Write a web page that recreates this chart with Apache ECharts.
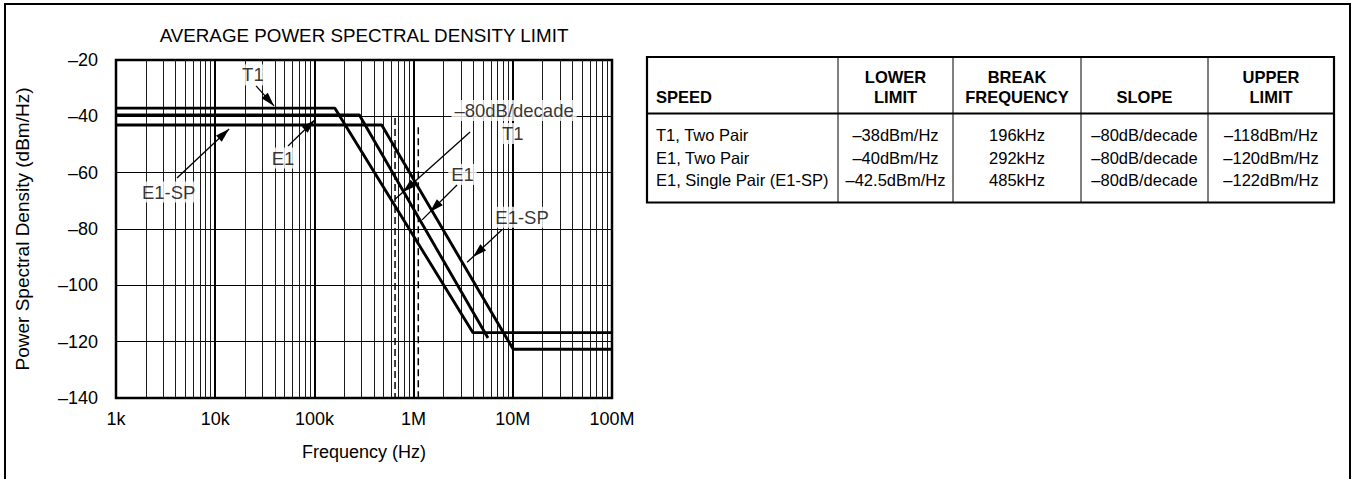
<!DOCTYPE html>
<html><head><meta charset="utf-8">
<script src="https://cdn.jsdelivr.net/npm/echarts@6/dist/echarts.min.js"></script>
<style>html,body{margin:0;padding:0;background:#fff}#c{width:1356px;height:479px}</style>
</head><body><div id="c"></div>
<script>
// ---- data ----
const xTickLabels = ['1k', '10k', '100k', '1M', '10M', '100M'];
const yTickLabels = ['–140', '–120', '–100', '–80', '–60', '–40', '–20'];

const t1Freq = [1e3, 161e3, 3.97e6, 1e8];
const t1Psd = [-37.1, -37.1, -116.8, -116.8];
const e1Freq = [1e3, 284e3, 5.62e6];
const e1Psd = [-39.5, -39.5, -118.7];
const e1spFreq = [1e3, 477e3, 10.1e6, 1e8];
const e1spPsd = [-43.1, -43.1, -122.7, -122.7];

const dashFreq = [650e3, 1.115e6];
const dashTopPsd = [-40.6, -43.9];

const labelText = ['T1', 'E1', 'E1-SP', '–80dB/decade', 'T1', 'E1', 'E1-SP'];
const labelFreq = [24.0e3, 48.2e3, 3.4e3, 10.3e6, 10.0e6, 3.11e6, 12.4e6];
const labelPsd = [-25.3, -54.8, -66.9, -37.9, -46.1, -60.6, -75.8];

const arrowFromFreq = [25.8e3, 54.2e3, 4.12e3, 3.71e6, 2.74e6, 7.78e6];
const arrowFromPsd = [-29.2, -50.5, -61.9, -45.6, -64.4, -80.3];
const arrowToFreq = [39.2e3, 101e3, 13.8e3, 781e3, 1.46e6, 3.97e6];
const arrowToPsd = [-36.3, -41.3, -44.5, -66.9, -74.0, -89.9];

const tableHead = [['SPEED'], ['LOWER', 'LIMIT'], ['BREAK', 'FREQUENCY'], ['SLOPE'], ['UPPER', 'LIMIT']];
const tableRows = [
  ['T1, Two Pair', '–38dBm/Hz', '196kHz', '–80dB/decade', '–118dBm/Hz'],
  ['E1, Two Pair', '–40dBm/Hz', '292kHz', '–80dB/decade', '–120dBm/Hz'],
  ['E1, Single Pair (E1-SP)', '–42.5dBm/Hz', '485kHz', '–80dB/decade', '–122dBm/Hz']
];

// ---- styling / layout ----
const FONT = '"Liberation Sans", Arial, Helvetica, sans-serif';
const arrowOvershoot = [0, 0, 0, 11, 11, 8];
const GRID = {left: 116, top: 60, width: 496, height: 338};

// minor grid positions (2..9 per decade) – axis structure
const minorFreqs = [];
for (let d = 1e3; d < 1e8; d *= 10) for (let m = 2; m <= 9; m++) minorFreqs.push(m * d);

const pairs = (fs, ps) => fs.map((f, i) => [f, ps[i]]);

const chart = echarts.init(document.getElementById('c'), null, {renderer: 'svg'});

const curveStyle = {color: '#000', width: 2.9};
const option = {
  animation: false,
  backgroundColor: '#fff',
  grid: Object.assign({show: true, borderColor: '#000', borderWidth: 2.5, backgroundColor: 'transparent'}, GRID),
  xAxis: {
    type: 'log', logBase: 10, min: 1e3, max: 1e8,
    name: 'Frequency (Hz)', nameLocation: 'middle', nameGap: 45,
    nameTextStyle: {fontFamily: FONT, fontSize: 18, color: '#000'},
    axisLine: {show: false}, axisTick: {show: false},
    axisLabel: {
      margin: 12, fontFamily: FONT, fontSize: 18, color: '#000', showMinLabel: true, showMaxLabel: true,
      formatter: v => xTickLabels[Math.round(Math.log10(v)) - 3]
    },
    splitLine: {show: true, lineStyle: {color: '#000', width: 2}},
    minorTick: {show: false}, minorSplitLine: {show: false}
  },
  yAxis: {
    type: 'value', min: -140, max: -20, interval: 20,
    name: 'Power Spectral Density (dBm/Hz)', nameLocation: 'middle', nameGap: 84,
    nameTextStyle: {fontFamily: FONT, fontSize: 19, color: '#000', width: 400, overflow: 'none'},
    axisLine: {show: false}, axisTick: {show: false},
    axisLabel: {
      margin: 18, fontFamily: FONT, fontSize: 18, color: '#000',
      formatter: v => yTickLabels[Math.round((v + 140) / 20)]
    },
    splitLine: {show: true, lineStyle: {color: '#000', width: 1}}
  },
  series: [
    {
      type: 'line', data: [], z: 1, silent: true,
      markLine: {
        silent: true, symbol: 'none', animation: false, label: {show: false},
        lineStyle: {color: '#1a1a1a', width: 1, type: 'solid'},
        emphasis: {disabled: true},
        data: minorFreqs.map(f => ({xAxis: f}))
      }
    },
    {name: 'T1', type: 'line', data: pairs(t1Freq, t1Psd), showSymbol: false, lineStyle: curveStyle, z: 5},
    {name: 'E1', type: 'line', data: pairs(e1Freq, e1Psd), showSymbol: false, lineStyle: curveStyle, z: 5},
    {name: 'E1-SP', type: 'line', data: pairs(e1spFreq, e1spPsd), showSymbol: false, lineStyle: curveStyle, z: 5},
    {type: 'line', data: [[dashFreq[0], dashTopPsd[0]], [dashFreq[0], -140]], showSymbol: false,
      lineStyle: {color: '#000', width: 1.5, type: [7, 4]}, z: 4},
    {type: 'line', data: [[dashFreq[1], dashTopPsd[1]], [dashFreq[1], -140]], showSymbol: false,
      lineStyle: {color: '#000', width: 1.5, type: [7, 4]}, z: 4},
    {
      type: 'scatter', z: 10, symbolSize: 0, itemStyle: {color: 'transparent'},
      data: labelText.map((t, i) => [labelFreq[i], labelPsd[i], t]),
      label: {
        show: true, position: 'inside', formatter: p => p.data[2],
        backgroundColor: '#fff', padding: [1, 3], color: '#000', fontSize: 18.5, fontFamily: FONT
      }
    }
  ]
};
chart.setOption(option);

// ---- arrows (positions via the chart's own scales) ----
const graphics = [];
for (let i = 0; i < arrowFromFreq.length; i++) {
  const p0 = chart.convertToPixel({gridIndex: 0}, [arrowFromFreq[i], arrowFromPsd[i]]);
  const p1 = chart.convertToPixel({gridIndex: 0}, [arrowToFreq[i], arrowToPsd[i]]);
  const dx = p1[0] - p0[0], dy = p1[1] - p0[1], L = Math.hypot(dx, dy), ux = dx / L, uy = dy / L;
  const ov = arrowOvershoot[i];
  graphics.push({type: 'line', z: 20, shape: {x1: p0[0], y1: p0[1], x2: p1[0] + ux * ov, y2: p1[1] + uy * ov},
    style: {stroke: '#000', lineWidth: 1.3}});
  const hl = 14, hw = 4.2, bx = p1[0] - ux * hl, by = p1[1] - uy * hl;
  graphics.push({type: 'polygon', z: 20, shape: {points: [[p1[0], p1[1]], [bx - uy * hw, by + ux * hw], [bx + uy * hw, by - ux * hw]]},
    style: {fill: '#000'}});
}

// ---- title & frame ----
graphics.push({type: 'text', x: 364, y: 35, z: 20, style: {text: 'AVERAGE POWER SPECTRAL DENSITY LIMIT', fontFamily: FONT, fontSize: 18.8,
  fill: '#000', align: 'center', verticalAlign: 'middle'}});
graphics.push({type: 'rect', z: 0, shape: {x: 5, y: 4, width: 1345, height: 520}, style: {fill: 'none', stroke: '#000', lineWidth: 2}});

// ---- table ----
const colEdges = [647, 838, 953, 1081, 1208, 1334];
const tTop = 57, tHead = 113.5, tBottom = 202.5;
const headLineY = [76.7, 96.7];
const rowY = [135, 157.5, 180];
graphics.push({type: 'rect', z: 20, shape: {x: colEdges[0], y: tTop, width: colEdges[5] - colEdges[0], height: tBottom - tTop},
  style: {fill: 'none', stroke: '#000', lineWidth: 2.2}});
graphics.push({type: 'line', z: 20, shape: {x1: colEdges[0], y1: tHead, x2: colEdges[5], y2: tHead}, style: {stroke: '#000', lineWidth: 2}});
for (let c = 1; c < 5; c++) {
  graphics.push({type: 'line', z: 20, shape: {x1: colEdges[c], y1: tTop, x2: colEdges[c], y2: tBottom}, style: {stroke: '#000', lineWidth: 1}});
}
tableHead.forEach((lines, c) => {
  const offset = headLineY.length - lines.length;
  lines.forEach((t, k) => {
    const left = c === 0;
    graphics.push({type: 'text', z: 21, x: left ? colEdges[0] + 9 : (colEdges[c] + colEdges[c + 1]) / 2, y: headLineY[k + offset],
      style: {text: t, fontFamily: FONT, fontWeight: 'bold', fontSize: 16.5, fill: '#000', align: left ? 'left' : 'center', verticalAlign: 'middle'}});
  });
});
tableRows.forEach((row, r) => {
  row.forEach((t, c) => {
    const left = c === 0;
    graphics.push({type: 'text', z: 21, x: left ? colEdges[0] + 9 : (colEdges[c] + colEdges[c + 1]) / 2, y: rowY[r],
      style: {text: t, fontFamily: FONT, fontSize: 16.5, fill: '#000', align: left ? 'left' : 'center', verticalAlign: 'middle'}});
  });
});

chart.setOption({graphic: {elements: graphics}});
</script></body></html>
